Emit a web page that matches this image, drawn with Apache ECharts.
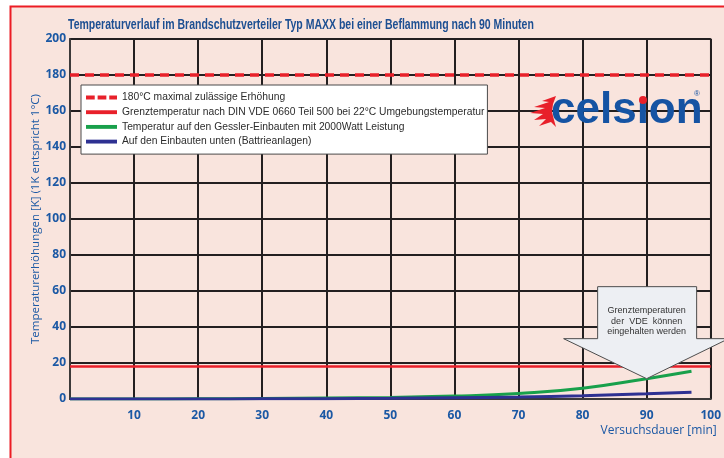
<!DOCTYPE html>
<html>
<head>
<meta charset="utf-8">
<script src="https://cdn.jsdelivr.net/npm/echarts@6/dist/echarts.min.js"></script>
<style>
  html, body { margin: 0; padding: 0; background: #fff; }
  #main { width: 724px; height: 458px; }
</style>
</head>
<body>
<div id="main"></div>
<script>
// Daten
var minuten = [0, 10, 20, 30, 40, 50, 60, 70, 80, 90, 97];
var gesslerEinbauten = [0, 0, 0.1, 0.3, 0.5, 0.9, 1.6, 3.1, 6, 11.3, 15.4];
var einbautenUnten = [0, 0, 0, 0.1, 0.2, 0.4, 0.7, 1.1, 1.8, 2.9, 3.8];
var grenzeMax = 180;      // 180°C maximal zulässige Erhöhung
var grenzeVDE = 18;       // Grenztemperatur DIN VDE 0660
var xTicks = [0, 10, 20, 30, 40, 50, 60, 70, 80, 90, 100];
var yTicks = [0, 20, 40, 60, 80, 100, 120, 140, 160, 180, 200];

var namen = [
  '180°C maximal zulässige Erhöhung',
  'Grenztemperatur nach DIN VDE 0660 Teil 500 bei 22°C Umgebungstemperatur',
  'Temperatur auf den Gessler-Einbauten mit 2000Watt Leistung',
  'Auf den Einbauten unten (Battrieanlagen)'
];

var blau = '#1b58a4';
var rosa = '#f9e4dd';
var rot = '#e8202a';
var dashIcon = 'path://M0,0h9v4h-9z M12,0h9v4h-9z M24,0h8v4h-8z';
var lineIcon = 'path://M0,0h32v4h-32z';

function paare(xs, ys) {
  var out = [];
  for (var i = 0; i < xs.length; i++) out.push([xs[i], ys[i]]);
  return out;
}

var myChart = echarts.init(document.getElementById('main'), null, { renderer: 'canvas' });

var option = {
  backgroundColor: '#ffffff',
  animation: false,
  legend: {
    orient: 'vertical',
    left: 81,
    top: 85,
    padding: [7, 3, 7, 5],
    itemGap: 3.7,
    itemWidth: 31,
    itemHeight: 4,
    backgroundColor: '#ffffff',
    borderColor: '#4a4a4a',
    borderWidth: 1,
    selectedMode: false,
    textStyle: {
      color: '#2c2c2c',
      fontSize: 10.3,
      lineHeight: 11,
      fontFamily: '"Liberation Sans", Arial, sans-serif'
    },
    data: [
      { name: namen[0], icon: dashIcon },
      { name: namen[1], icon: lineIcon },
      { name: namen[2], icon: lineIcon },
      { name: namen[3], icon: lineIcon }
    ]
  },
  grid: {
    left: 70,
    right: 13,
    top: 39,
    bottom: 59,
    show: true,
    backgroundColor: rosa,
    borderColor: '#3c3a3a',
    borderWidth: 1.5
  },
  xAxis: {
    type: 'value',
    min: xTicks[0],
    max: xTicks[xTicks.length - 1],
    interval: 10,
    name: 'Versuchsdauer [min]',
    nameLocation: 'end',
    nameGap: 6,
    nameTextStyle: {
      color: blau,
      fontSize: 12,
      fontFamily: '"Open Sans", "Noto Sans", sans-serif',
      align: 'right',
      verticalAlign: 'top',
      padding: [26, 0, 0, 0]
    },
    axisLine: { show: true, lineStyle: { color: '#3c3a3a', width: 2 } },
    axisTick: { show: false },
    axisLabel: {
      color: blau,
      fontSize: 12,
      fontWeight: 'bold',
      fontFamily: '"Open Sans", "Noto Sans", sans-serif',
      margin: 11,
      formatter: function (v) { return v === 0 ? '' : v; }
    },
    splitLine: { show: true, lineStyle: { color: '#231f20', width: 2 } }
  },
  yAxis: {
    type: 'value',
    min: yTicks[0],
    max: yTicks[yTicks.length - 1],
    interval: 20,
    name: 'Temperaturerhöhungen [K] (1K entspricht 1°C)',
    nameLocation: 'middle',
    nameGap: 28,
    nameMoveOverlap: false,
    nameTextStyle: {
      color: blau,
      fontSize: 11.5,
      fontFamily: '"Open Sans", "Noto Sans", sans-serif'
    },
    axisLine: { show: true, lineStyle: { color: '#3c3a3a', width: 2 } },
    axisTick: { show: false },
    axisLabel: {
      color: blau,
      fontSize: 12,
      fontWeight: 'bold',
      fontFamily: '"Open Sans", "Noto Sans", sans-serif',
      margin: 4
    },
    splitLine: { show: true, lineStyle: { color: '#231f20', width: 2 } }
  },
  series: [
    {
      name: namen[0],
      type: 'line',
      symbol: 'none',
      data: [[xTicks[0], grenzeMax], [xTicks[xTicks.length - 1], grenzeMax]],
      lineStyle: { color: rot, width: 3.5, type: [9, 6] },
      itemStyle: { color: rot },
      z: 3
    },
    {
      name: namen[1],
      type: 'line',
      symbol: 'none',
      data: [[xTicks[0], grenzeVDE], [xTicks[xTicks.length - 1], grenzeVDE]],
      lineStyle: { color: rot, width: 2.5 },
      itemStyle: { color: rot },
      z: 3
    },
    {
      name: namen[2],
      type: 'line',
      symbol: 'none',
      smooth: true,
      data: paare(minuten, gesslerEinbauten),
      lineStyle: { color: '#18a04b', width: 3 },
      itemStyle: { color: '#18a04b' },
      z: 4
    },
    {
      name: namen[3],
      type: 'line',
      symbol: 'none',
      smooth: true,
      data: paare(minuten, einbautenUnten),
      lineStyle: { color: '#2e3192', width: 3 },
      itemStyle: { color: '#2e3192' },
      z: 5
    }
  ]
};

myChart.setOption(option);

// Rahmen, Titel, Logo und Hinweispfeil
var tip = myChart.convertToPixel({ gridIndex: 0 }, [90, gesslerEinbauten[9]]);
var tx = tip[0], ty = tip[1];

var flamme = [
  [26, 16], [12, 21], [19, 22], [4, 27], [15, 28], [0, 33], [13, 34],
  [4, 40], [16, 39], [9, 46], [21, 42], [26, 47], [24, 40], [22, 32], [23, 24]
];

myChart.setOption({
  graphic: [
    {
      type: 'rect',
      z: -10,
      shape: { x: 10.5, y: 6.5, width: 730, height: 470 },
      style: { fill: rosa, stroke: '#ec1c24', lineWidth: 2 }
    },
    {
      type: 'text',
      x: 68,
      y: 25,
      scaleX: 0.75,
      z: 20,
      style: {
        text: 'Temperaturverlauf im Brandschutzverteiler Typ MAXX bei einer Beflammung nach 90 Minuten',
        font: 'bold 14px "Liberation Sans", Arial, sans-serif',
        fill: '#1d4f92',
        verticalAlign: 'middle'
      }
    },
    {
      type: 'group',
      x: 530,
      y: 80,
      z: 20,
      children: [
        {
          type: 'polygon',
          shape: { points: flamme },
          style: { fill: rot }
        },
        {
          type: 'text',
          x: 21,
          y: 9,
          style: {
            text: 'cels\u0131on',
            font: 'bold 44px "Liberation Sans", Arial, sans-serif',
            fill: '#1553a3'
          }
        },
        {
          type: 'circle',
          shape: { cx: 113, cy: 20, r: 4 },
          style: { fill: rot }
        },
        {
          type: 'text',
          x: 164,
          y: 10,
          style: { text: '®', font: '8px "Liberation Sans", sans-serif', fill: '#1553a3' }
        }
      ]
    },
    {
      type: 'polygon',
      z: 30,
      shape: {
        points: [
          [tx - 49, ty - 92], [tx + 50, ty - 92], [tx + 50, ty - 40], [tx + 82, ty - 40],
          [tx, ty], [tx - 83, ty - 40], [tx - 49, ty - 40]
        ]
      },
      style: { fill: '#edeff3', stroke: '#4d4d4d', lineWidth: 1 }
    },
    {
      type: 'text',
      z: 31,
      x: tx,
      y: ty - 73,
      style: {
        text: 'Grenztemperaturen\nder  VDE  können\neingehalten werden',
        font: '9px "Liberation Sans", Arial, sans-serif',
        fill: '#333333',
        align: 'center',
        lineHeight: 10.5
      }
    }
  ]
});
</script>
</body>
</html>
